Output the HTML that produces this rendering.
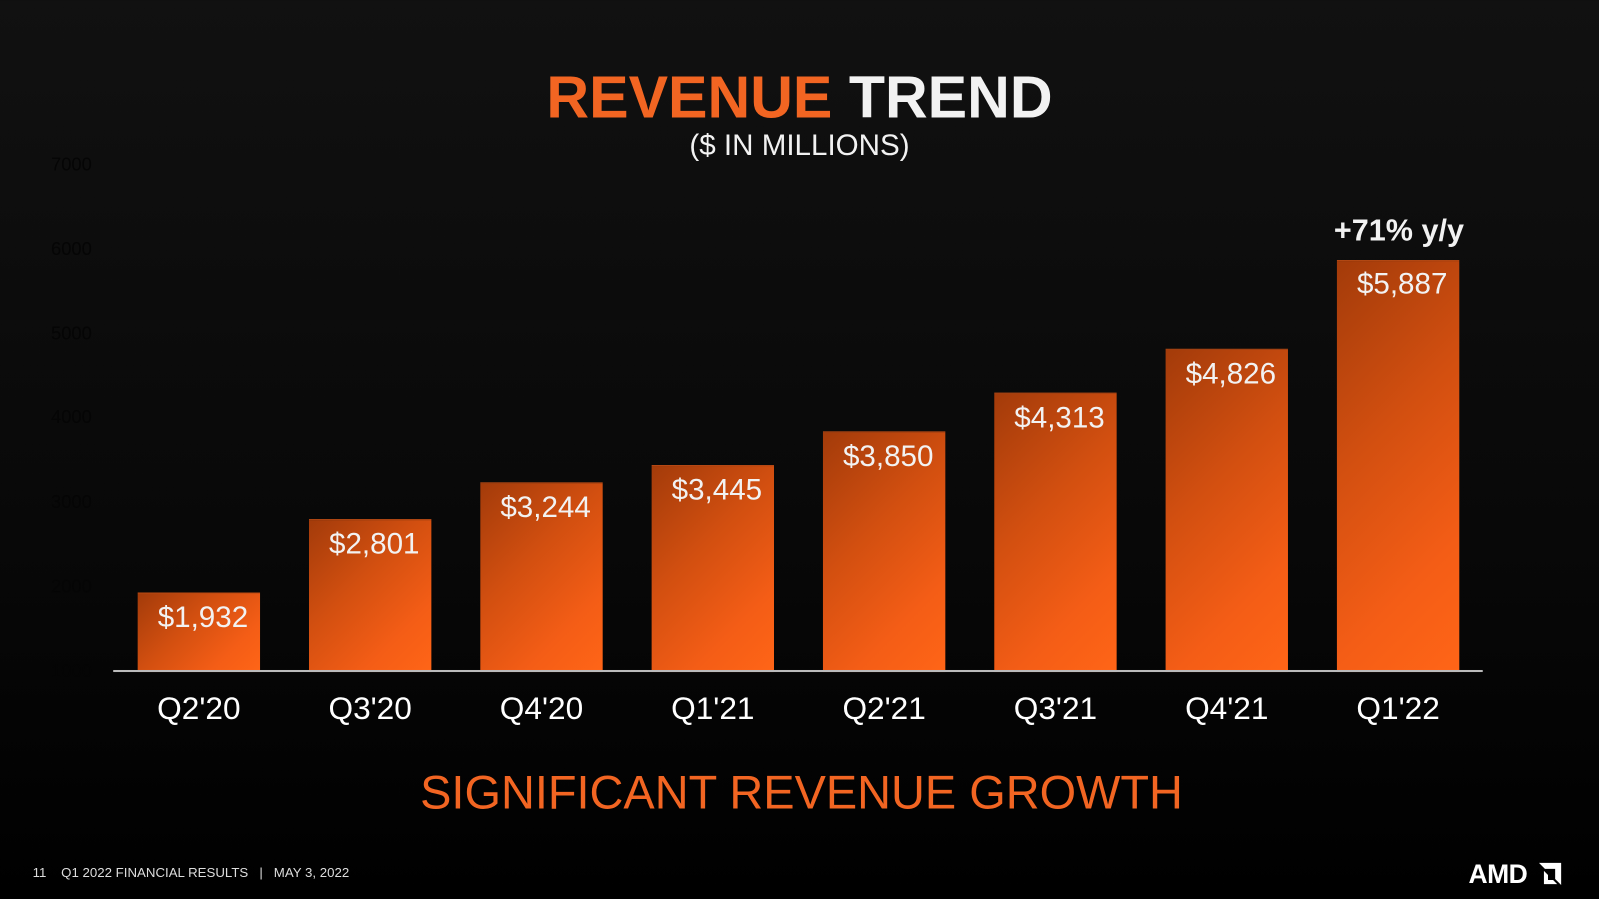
<!DOCTYPE html>
<html><head><meta charset="utf-8"><style>
body{margin:0;width:1599px;height:899px;overflow:hidden;background:linear-gradient(#111 0%,#080808 60%,#000 100%);font-family:"Liberation Sans",sans-serif;position:relative}
#w{position:absolute;left:0;top:0;width:1568px;height:882px;transform:scale(1.01977);transform-origin:0 0}
.a{position:absolute;white-space:nowrap}
.bar{position:absolute;width:120px;background:linear-gradient(135deg,#a33b0a 0%,#d24f10 40%,#f45d16 75%,#ff6517 100%);border-top:1px solid #b84a14}
.v{position:absolute;color:#f2f2f2;font-size:29px;width:140px;text-align:center}
.x{position:absolute;color:#fff;font-size:31px;width:168px;text-align:center;top:677px}
.y{position:absolute;left:50px;color:#050505;font-size:18px}
</style></head><body><div id="w">
<div class="a" style="left:0;width:1568px;text-align:center;top:62px;font-size:58px;font-weight:bold"><span style="color:#f26522">REVENUE</span> <span style="color:#f2f2f2">TREND</span></div>
<div class="a" style="left:0;width:1568px;text-align:center;top:127px;font-size:29px;color:#f2f2f2">($ IN MILLIONS)</div>
<div class="y" style="top:151px">7000</div><div class="y" style="top:234px">6000</div><div class="y" style="top:317px">5000</div><div class="y" style="top:399px">4000</div><div class="y" style="top:482px">3000</div><div class="y" style="top:565px">2000</div><div class="y" style="top:648px">1000</div>
<div class="bar" style="left:135px;top:581px;height:77px"></div>
<div class="bar" style="left:303px;top:509px;height:149px"></div>
<div class="bar" style="left:471px;top:473px;height:185px"></div>
<div class="bar" style="left:639px;top:456px;height:202px"></div>
<div class="bar" style="left:807px;top:423px;height:235px"></div>
<div class="bar" style="left:975px;top:385px;height:273px"></div>
<div class="bar" style="left:1143px;top:342px;height:316px"></div>
<div class="bar" style="left:1311px;top:255px;height:403px"></div>
<div class="a" style="left:111px;top:657px;width:1343px;height:2px;background:#bbb"></div>
<div class="v" style="left:129px;top:590px">$1,932</div>
<div class="v" style="left:297px;top:518px">$2,801</div>
<div class="v" style="left:465px;top:482px">$3,244</div>
<div class="v" style="left:633px;top:465px">$3,445</div>
<div class="v" style="left:801px;top:432px">$3,850</div>
<div class="v" style="left:969px;top:394px">$4,313</div>
<div class="v" style="left:1137px;top:351px">$4,826</div>
<div class="v" style="left:1305px;top:263px">$5,887</div>
<div class="a" style="left:1308px;top:210px;font-size:30px;font-weight:bold;color:#f2f2f2">+71% y/y</div>
<div class="x" style="left:111px">Q2'20</div><div class="x" style="left:279px">Q3'20</div><div class="x" style="left:447px">Q4'20</div><div class="x" style="left:615px">Q1'21</div><div class="x" style="left:783px">Q2'21</div><div class="x" style="left:951px">Q3'21</div><div class="x" style="left:1119px">Q4'21</div><div class="x" style="left:1287px">Q1'22</div>
<div class="a" style="left:0;width:1572px;text-align:center;top:750px;font-size:46px;color:#f26522">SIGNIFICANT REVENUE GROWTH</div>
<div class="a" style="left:32px;top:848px;font-size:13px;color:#ddd">11 &nbsp;&nbsp;&nbsp;Q1 2022 FINANCIAL RESULTS &nbsp;&nbsp;| &nbsp;&nbsp;MAY 3, 2022</div>
<div class="a" style="left:1440px;top:842px;font-size:26px;font-weight:bold;color:#fff;letter-spacing:-0.5px">AMD</div>
<svg class="a" style="left:1509px;top:846px" width="22" height="22" viewBox="0 0 22 22"><path d="M0 0H22V22L16 16V6H6Z" fill="#fff"/><path d="M5 8L9 12V17H14L18 21H5Z" fill="#fff"/></svg>
</div></body></html>
